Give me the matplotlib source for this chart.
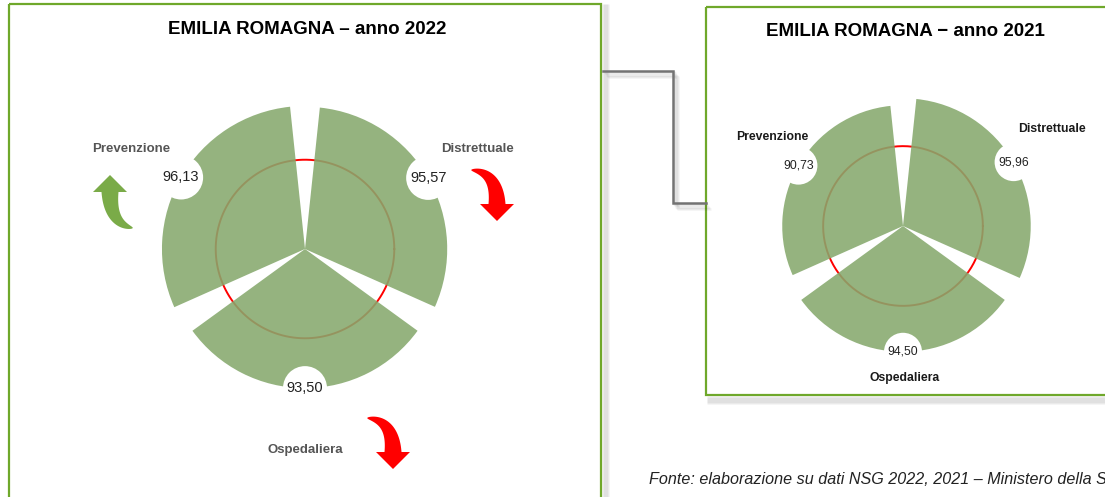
import numpy as np
import matplotlib
matplotlib.use('Agg')
import matplotlib.pyplot as plt
from matplotlib.patches import Rectangle, Polygon

plt.rcParams['font.family'] = ['Liberation Sans', 'DejaVu Sans']

# dati NSG - Emilia Romagna
categories = ['Distrettuale', 'Prevenzione', 'Ospedaliera']
values_2022 = [95.57, 96.13, 93.50]
values_2021 = [95.96, 90.73, 94.50]
threshold = 60
angles_deg = [30, 150, 270]

W, H = 1105, 497
fig = plt.figure(figsize=(W / 100, H / 100), dpi=100)
fig.patch.set_facecolor('white')

bg = fig.add_axes([0, 0, 1, 1])
bg.set_xlim(0, W)
bg.set_ylim(H, 0)
bg.axis('off')
bg.set_zorder(0)

green_border = '#6fa82b'
wedge_col = '#86a96d'


def shadow_line(xs, ys, n=6, dx=1, dy=1):
    for i in range(1, n + 1):
        bg.plot([x + dx * i for x in xs], [y + dy * i for y in ys],
                color='black', alpha=0.045, lw=2, solid_capstyle='butt')


# cornici
shadow_line([602, 602], [4, 500], n=6, dx=1, dy=0)
bg.add_patch(Rectangle((9, 4), 592, 500, fill=False, ec=green_border, lw=1.6))
shadow_line([707, 1110], [396, 396], n=7, dx=0, dy=1)
bg.add_patch(Rectangle((706, 7), 410, 388, fill=False, ec=green_border, lw=1.6))

# connettore
cx_ = [603, 673, 673, 706]
cy_ = [71, 71, 203, 203]
shadow_line(cx_, cy_, n=5, dx=1, dy=1.2)
bg.plot(cx_, cy_, color='#737373', lw=1.8, solid_joinstyle='miter')


def draw_rose(cx, cy, scale, values, title, title_y, lab_pos, lab_col, lab_fs,
              val_fs, bubble_r):
    R = 100 * scale
    ax = fig.add_axes([(cx - R) / W, (H - cy - R) / H, 2 * R / W, 2 * R / H],
                      projection='polar')
    ax.set_zorder(1)
    ax.patch.set_alpha(0)
    ax.set_ylim(0, 100)
    th = np.deg2rad(angles_deg)
    t = np.linspace(0, 2 * np.pi, 300)
    ax.plot(t, np.full_like(t, threshold), color='red', lw=1.4, zorder=1)
    ax.bar(th, values, width=np.deg2rad(108), bottom=0, color=wedge_col,
           alpha=0.88, edgecolor='none', zorder=2)
    s = (2 * bubble_r * 0.72) ** 2
    sc = ax.scatter(th, values, s=s, color='white', edgecolor='none', zorder=3)
    sc.set_clip_on(False)
    for a, v in zip(th, values):
        ax.text(a, v, f'{v:.2f}'.replace('.', ','), ha='center', va='center',
                fontsize=val_fs, color='#222222', zorder=4, clip_on=False)
    ax.axis('off')
    bg.text(cx + 2, title_y, title, ha='center', va='center', fontsize=13.5,
            fontweight='bold', color='black')
    for c, (x, y) in zip(categories, lab_pos):
        bg.text(x, y, c, ha='center', va='center', fontsize=lab_fs,
                fontweight='bold', color=lab_col)


draw_rose(305, 249, 1.488, values_2022, 'EMILIA ROMAGNA \u2013 anno 2022', 30,
          [(478, 149), (131, 149), (305, 450)], '#555555', 9.5, 10.5, 22)
draw_rose(903, 226, 1.331, values_2021, 'EMILIA ROMAGNA \u2212 anno 2021', 32,
          [(1052, 129), (772, 137), (905, 378)], '#1a1a1a', 8.8, 8.8, 19)


def curved_arrow(tail, base, ctrl, direction, color, w0=17, hl=17, hw=17):
    T, B, C = np.array(tail, float), np.array(base, float), np.array(ctrl, float)
    d = np.array(direction, float)
    d /= np.linalg.norm(d)
    s = np.linspace(0, 1, 40)[:, None]
    P = (1 - s) ** 2 * T + 2 * (1 - s) * s * C + s ** 2 * B
    dP = 2 * (1 - s) * (C - T) + 2 * s * (B - C)
    n = np.column_stack([-dP[:, 1], dP[:, 0]])
    n /= np.linalg.norm(n, axis=1)[:, None]
    w = w0 * s ** 0.6 / 2
    left, right = P + n * w, P - n * w
    perp = np.array([-d[1], d[0]])
    head = [B + perp * hw, B + d * hl, B - perp * hw]
    # keep sides consistent with head corners
    if np.dot(left[-1] - B, perp) < 0:
        left, right = right, left
    pts = np.vstack([left, head, right[::-1]])
    bg.add_patch(Polygon(pts, closed=True, fc=color, ec='none', zorder=2))


# frecce di tendenza 2022 vs 2021 (tail, base testa, controllo)
arrow_geom = {
    'Distrettuale': ((471, 170), (497, 204), (497, 172)),
    'Prevenzione': ((133, 228), (110, 192), (110, 224)),
    'Ospedaliera': ((367, 418), (393, 452), (393, 420)),
}
for c, v22, v21 in zip(categories, values_2022, values_2021):
    tail, base, ctrl = arrow_geom[c]
    up = v22 > v21
    col = '#7aab48' if up else '#ff0000'
    curved_arrow(tail, base, ctrl, (0, -1) if up else (0, 1), col)

bg.text(649, 479, 'Fonte: elaborazione su dati NSG 2022, 2021 \u2013 Ministero della Salute',
        ha='left', va='center', fontsize=11.6, style='italic', color='#222222')

fig.savefig('out.png', dpi=100)
